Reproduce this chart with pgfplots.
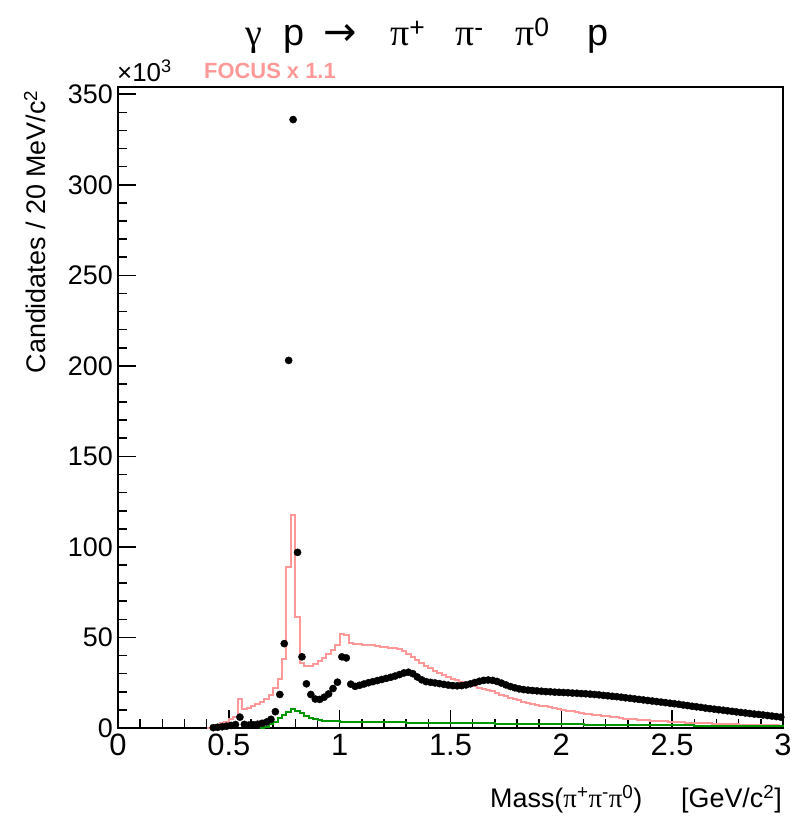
\documentclass[border=0pt]{standalone}
\usepackage{fontspec}
\setmainfont{Liberation Sans}
\newfontfamily\gr{Liberation Serif}
\newfontfamily\dv{DejaVu Sans}
\usepackage{pgfplots}
\pgfplotsset{compat=1.18}
\definecolor{focuspink}{RGB}{255,153,153}
\definecolor{mcgreen}{RGB}{0,150,0}
\begin{document}
\begin{tikzpicture}
\begin{axis}[
  at={(0,0)}, anchor=south west,
  scale only axis, width=665bp, height=641bp,
  xmin=0, xmax=3, ymin=0, ymax=354,
  axis line style={line width=1.6bp},
  xtick={0,0.5,1,1.5,2,2.5,3},
  xticklabels={0,0.5,1,1.5,2,2.5,3},
  ytick={0,50,100,150,200,250,300,350},
  yticklabels={0,50,100,150,200,250,300,350},
  minor x tick num=4, minor y tick num=4,
  tick pos=left,
  tick align=inside,
  major tick length=18bp, minor tick length=9bp,
  tick style={black, line width=1.6bp},
  /pgf/number format/assume math mode=true,
  xticklabel style={font=\fontsize{31}{31}\selectfont, inner sep=0pt, anchor=north, yshift=-6bp},
  yticklabel style={font=\fontsize{27}{27}\selectfont, inner sep=0pt, anchor=east, xshift=-5bp},
  clip=false,
]
% FOCUS x 1.1 (left bin edges)
\addplot[const plot, color=focuspink, line width=2bp, no marks] coordinates {
(0.40,0.0)(0.42,0.8)(0.44,1.6)(0.46,2.5)(0.48,3.5)(0.50,4.7)(0.52,6.2)(0.54,15.8)(0.56,10.3)(0.58,11.0)
(0.60,11.9)(0.62,13.0)(0.64,14.3)(0.66,15.9)(0.68,18.5)(0.70,22.0)(0.72,27.0)(0.74,38.0)(0.76,89.0)(0.78,117.5)
(0.80,61.3)(0.82,36.0)(0.84,34.2)(0.86,34.3)(0.88,35.3)(0.90,36.8)(0.92,38.8)(0.94,41.0)(0.96,43.3)(0.98,45.8)
(1.00,52.1)(1.02,51.6)(1.04,47.0)(1.06,46.5)(1.08,46.3)(1.10,46.0)(1.12,45.8)(1.14,45.6)(1.16,45.3)(1.18,45.0)
(1.20,44.7)(1.22,44.4)(1.24,44.0)(1.26,43.5)(1.28,42.6)(1.30,41.0)(1.32,39.3)(1.34,37.6)(1.36,36.0)(1.38,34.4)
(1.40,33.0)(1.42,31.6)(1.44,30.4)(1.46,29.2)(1.48,28.2)(1.50,27.2)(1.52,26.3)(1.54,25.4)(1.56,24.6)(1.58,23.8)
(1.60,23.0)(1.62,22.3)(1.64,21.6)(1.66,20.9)(1.68,20.2)(1.70,19.3)(1.72,18.4)(1.74,17.5)(1.76,16.7)(1.78,15.9)
(1.80,15.2)(1.82,14.6)(1.84,14.0)(1.86,13.4)(1.88,12.9)(1.90,12.4)(1.92,11.9)(1.94,11.4)(1.96,10.9)(1.98,10.5)
(2.00,10.0)(2.02,9.6)(2.04,9.2)(2.06,8.8)(2.08,8.4)(2.10,8.0)(2.12,7.7)(2.14,7.4)(2.16,7.0)(2.18,6.7)
(2.20,6.4)(2.22,6.1)(2.24,5.8)(2.26,5.5)(2.28,5.2)(2.30,5.0)(2.32,4.8)(2.34,4.6)(2.36,4.4)(2.38,4.2)
(2.40,4.0)(2.42,3.9)(2.44,3.7)(2.46,3.6)(2.48,3.5)(2.50,3.4)(2.52,3.3)(2.54,3.1)(2.56,3.0)(2.58,2.9)
(2.60,2.8)(2.62,2.7)(2.64,2.6)(2.66,2.5)(2.68,2.4)(2.70,2.3)(2.72,2.2)(2.74,2.1)(2.76,2.0)(2.78,2.0)
(2.80,1.9)(2.82,1.8)(2.84,1.8)(2.86,1.7)(2.88,1.6)(2.90,1.6)(2.92,1.5)(2.94,1.5)(2.96,1.4)(2.98,1.3)(3.00,1.3)
};
% green histogram (left bin edges)
\addplot[const plot, color=mcgreen, line width=2bp, no marks] coordinates {
(0.64,0.0)(0.66,0.8)(0.68,2.0)(0.70,3.5)(0.72,5.3)(0.74,7.0)(0.76,8.6)(0.78,10.3)(0.80,9.5)(0.82,8.1)
(0.84,6.8)(0.86,5.7)(0.88,4.9)(0.90,4.4)(0.92,4.1)(0.94,3.9)(0.96,3.7)(0.98,3.6)(1.00,3.5)(1.10,3.4)
(1.20,3.2)(1.30,3.0)(1.40,2.8)(1.50,2.6)(1.60,2.5)(1.70,2.35)(1.80,2.2)(1.90,2.1)(2.00,2.0)(2.10,1.85)
(2.20,1.7)(2.30,1.6)(2.40,1.5)(2.50,1.4)(2.60,1.3)(2.70,1.2)(2.80,1.1)(2.90,1.0)(3.00,0.9)
};
% data points (bin centres)
\addplot[only marks, mark=*, mark size=3.6bp, black] coordinates {
(0.43,0.2)(0.45,0.4)(0.47,0.7)(0.49,1.0)(0.51,1.4)(0.53,1.9)(0.55,6.0)(0.57,2.0)(0.59,1.6)
(0.61,1.8)(0.63,2.1)(0.65,2.6)(0.67,3.3)(0.69,4.8)(0.71,9.0)(0.73,18.5)(0.75,46.6)(0.77,203)(0.79,336)
(0.81,97)(0.83,39.3)(0.85,24.4)(0.87,18.5)(0.89,16.0)(0.91,15.8)(0.93,17.0)(0.95,18.8)(0.97,21.8)(0.99,25.3)
(1.01,39.3)(1.03,38.7)(1.05,24.2)(1.07,23.0)(1.09,23.6)(1.11,24.3)(1.13,25.0)(1.15,25.6)(1.17,26.2)(1.19,26.8)
(1.21,27.4)(1.23,28.0)(1.25,28.7)(1.27,29.5)(1.29,30.4)(1.31,30.8)(1.33,30.0)(1.35,28.2)(1.37,26.6)(1.39,25.6)
(1.41,25.2)(1.43,24.9)(1.45,24.5)(1.47,24.1)(1.49,23.7)(1.51,23.4)(1.53,23.3)(1.55,23.4)(1.57,23.8)(1.59,24.4)
(1.61,25.1)(1.63,25.8)(1.65,26.3)(1.67,26.5)(1.69,26.3)(1.71,25.7)(1.73,24.8)(1.75,23.8)(1.77,22.9)(1.79,22.2)
(1.81,21.6)(1.83,21.2)(1.85,20.9)(1.87,20.7)(1.89,20.5)(1.91,20.3)(1.93,20.1)(1.95,20.0)(1.97,19.8)(1.99,19.7)
(2.01,19.6)(2.03,19.5)(2.05,19.3)(2.07,19.2)(2.09,19.0)(2.11,18.9)(2.13,18.7)(2.15,18.5)(2.17,18.3)(2.19,18.0)
(2.21,17.8)(2.23,17.5)(2.25,17.3)(2.27,17.0)(2.29,16.7)(2.31,16.4)(2.33,16.1)(2.35,15.8)(2.37,15.5)(2.39,15.2)
(2.41,14.9)(2.43,14.6)(2.45,14.3)(2.47,14.0)(2.49,13.7)(2.51,13.4)(2.53,13.1)(2.55,12.7)(2.57,12.4)(2.59,12.0)
(2.61,11.7)(2.63,11.4)(2.65,11.0)(2.67,10.7)(2.69,10.4)(2.71,10.1)(2.73,9.8)(2.75,9.5)(2.77,9.2)(2.79,8.9)
(2.81,8.6)(2.83,8.3)(2.85,8.0)(2.87,7.7)(2.89,7.5)(2.91,7.2)(2.93,6.9)(2.95,6.6)(2.97,6.3)(2.99,6.0)
};
\end{axis}
\path (-118bp,-92bp) rectangle (677bp,728bp);
% title
\begin{scope}[every node/.style={inner sep=0pt, anchor=base west, font=\fontsize{38}{40}\selectfont}]
\node at (127bp,682bp) {\gr γ};
\node at (165bp,682bp) {p};
\node at (272bp,682bp) {\gr π\textsuperscript{\rmfamily +}};
\node at (337bp,682bp) {\gr π\textsuperscript{\rmfamily -}};
\node at (397bp,682bp) {\gr π\textsuperscript{\rmfamily 0}};
\node at (469bp,682bp) {p};
\end{scope}
\node[inner sep=0pt, anchor=base west, font=\fontsize{40}{42}\selectfont\dv] at (205bp,682bp) {→};
% x10^3 and FOCUS label
\node[inner sep=0pt, anchor=base west, font=\fontsize{26}{28}\selectfont] at (-1bp,646bp) {×10\textsuperscript{3}};
\node[inner sep=0pt, anchor=base west, font=\fontsize{22}{24}\selectfont\bfseries, text=focuspink] at (86bp,649bp) {FOCUS x 1.1};
% axis titles
\node[inner sep=0pt, anchor=base west, font=\fontsize{27}{29}\selectfont] at (372bp,-79bp) {Mass({\gr π}\textsuperscript{+}{\gr π}\textsuperscript{-}{\gr π}\textsuperscript{0})};
\node[inner sep=0pt, anchor=base east, font=\fontsize{27}{29}\selectfont] at (664bp,-79bp) {[GeV/c\textsuperscript{2}]};
\node[inner sep=0pt, anchor=base east, rotate=90, font=\fontsize{27}{29}\selectfont] at (-72bp,638bp) {Candidates / 20 MeV/c\textsuperscript{2}};
\end{tikzpicture}
\end{document}
